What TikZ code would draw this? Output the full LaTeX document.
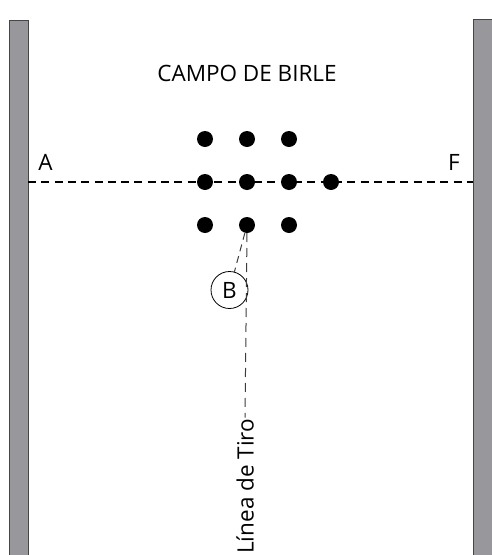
\documentclass[tikz,border=0pt]{standalone}
\usepackage{fontspec}
\setmainfont{Open Sans}
\usetikzlibrary{positioning}
\definecolor{cbwall}{RGB}{152,151,156}
\definecolor{cbedge}{RGB}{70,70,72}
\definecolor{cbline}{RGB}{60,60,60}

\begin{document}
\begin{tikzpicture}[x=1pt, y=-1pt,
  pin/.style={circle, fill=black, inner sep=0pt, minimum size=16pt},
  wall/.style={fill=cbwall, draw=cbedge, line width=0.8pt},
  lbl/.style={font=\fontsize{22.5}{26}\selectfont, inner sep=2pt}]
\useasboundingbox (0,0) rectangle (492,555);

% walls
\filldraw[wall] (9,20) rectangle (28,570);
\filldraw[wall] (473,19) rectangle (500,570);

% title
\node[lbl] (title) at (247,73) {CAMPO DE BIRLE};

% line A - F
\coordinate (lineA) at (28,182);
\coordinate (lineF) at (473,182);
\node[lbl] (A) at (45.5,162) {A};
\node[lbl] (F) at (454,162) {F};
\draw[black, line width=2.6pt, dash pattern=on 8pt off 5.3pt] (lineA) -- (lineF);

% pins
\node[pin] (p11) at (205,139) {};
\node[pin] (p12) at (247,139) {};
\node[pin] (p13) at (289,139) {};
\node[pin] (p21) at (205,182) {};
\node[pin] (p22) at (247,182) {};
\node[pin] (p23) at (289,182) {};
\node[pin] (p24) at (331,182) {};
\node[pin] (p31) at (205,225) {};
\node[pin] (p32) at (247,225) {};
\node[pin] (p33) at (289,225) {};

% ball B
\node[lbl, circle, draw, line width=0.8pt, minimum size=37pt, inner sep=0pt] (B) at (229.5,290) {B};
\draw[cbline, line width=1pt, dash pattern=on 7pt off 5pt] (p32) -- (B);

% throwing line
\node[lbl, rotate=90, anchor=west, inner sep=1pt] (tiro) at (245,555) {Línea de Tiro};
\draw[cbline, line width=1pt, dash pattern=on 9pt off 6pt] (p32.center) ++(0,8) -- (tiro.east);
\end{tikzpicture}
\end{document}
